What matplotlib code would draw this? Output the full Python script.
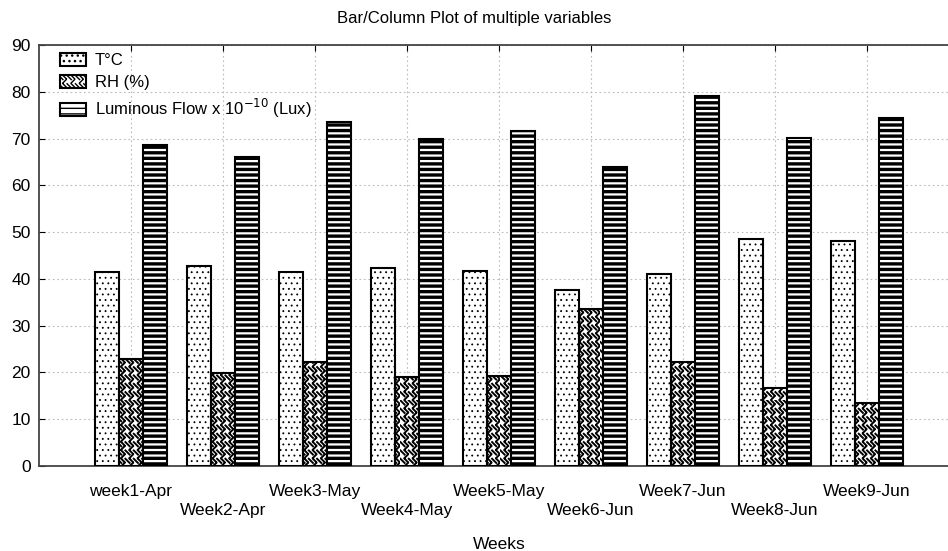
import numpy as np
import matplotlib
matplotlib.use('Agg')
import matplotlib.pyplot as plt
import matplotlib.hatch as mhatch
from matplotlib.path import Path

# dados
semanas = ['week1-Apr', 'Week2-Apr', 'Week3-May', 'Week4-May', 'Week5-May',
           'Week6-Jun', 'Week7-Jun', 'Week8-Jun', 'Week9-Jun']
temperatura = [41.5, 42.8, 41.5, 42.3, 41.7, 37.6, 41.1, 48.6, 48.2]
umidade = [22.9, 19.9, 22.2, 19.1, 19.3, 33.6, 22.2, 16.6, 13.5]
luminosidade = [68.7, 66.1, 73.6, 70.0, 71.6, 64.0, 79.2, 70.1, 74.5]
yticks = [0, 10, 20, 30, 40, 50, 60, 70, 80, 90]


class Trama(mhatch.HatchPatternBase):
    """Padrão 'trançado' (traços curtos diagonais), ativado pela letra O."""
    segs = [((0.05, 0.95), (0.55, 0.45)),
            ((0.55, 0.05), (0.95, 0.45)),
            ((0.55, 0.95), (0.95, 0.55))]

    def __init__(self, hatch, density):
        self.num_lines = int(hatch.count('O') * density)
        self.num_vertices = self.num_lines ** 2 * len(self.segs) * 2

    def set_vertices_and_codes(self, vertices, codes):
        n = self.num_lines
        k = 0
        for i in range(n):
            for j in range(n):
                for (a, b) in self.segs:
                    vertices[k] = ((i + a[0]) / n, (j + a[1]) / n)
                    vertices[k + 1] = ((i + b[0]) / n, (j + b[1]) / n)
                    codes[k] = Path.MOVETO
                    codes[k + 1] = Path.LINETO
                    k += 2


# troca o LargeCircles (não usado) pelo padrão trançado
mhatch._hatch_types = [Trama if h is mhatch.LargeCircles else h
                       for h in mhatch._hatch_types]

plt.rcParams['font.family'] = ['Liberation Sans', 'DejaVu Sans']
plt.rcParams['font.size'] = 12

fig = plt.figure(figsize=(9.48, 5.51), dpi=100)
ax = fig.add_axes([39 / 948, 1 - 466 / 551, 920 / 948, 421 / 551])

x = np.arange(1, len(semanas) + 1)
largura = 0.26

def barras(pos, valores, hatch, lw_hatch, rotulo):
    with plt.rc_context({'hatch.linewidth': lw_hatch}):
        bs = ax.bar(pos, valores, largura, color='white', edgecolor='black',
                    linewidth=1.5, hatch=hatch, label=rotulo, zorder=3)
        for p in bs:
            if hasattr(p, 'set_hatch_linewidth'):
                p.set_hatch_linewidth(lw_hatch)
    return bs

barras(x - largura, temperatura, '...', 0.6, 'T°C')
barras(x, umidade, 'OO', 1.4, 'RH (%)')
barras(x + largura, luminosidade, '---', 2.4, 'Luminous Flow x 10$^{-10}$ (Lux)')

ax.set_xlim(0, 10)
ax.set_ylim(0, 90)
ax.set_yticks(yticks)
ax.set_xticks(x)
# rótulos alternados em duas linhas
rot = [s if i % 2 == 0 else '\n' + s for i, s in enumerate(semanas)]
ax.set_xticklabels(rot, linespacing=1.3)

ax.tick_params(axis='x', direction='in', length=4, top=True, pad=13, labelsize=12.5)
ax.tick_params(axis='y', direction='in', length=4, labelsize=12.5, pad=6)
ax.grid(True, linestyle=(0, (1.5, 2.5)), color='#bbbbbb', linewidth=0.8, zorder=0)
ax.set_axisbelow(True)
for s in ['left', 'bottom', 'top', 'right']:
    ax.spines[s].set_color('#444444')
    ax.spines[s].set_linewidth(1.3)

ax.set_xlabel('Weeks', labelpad=14, fontsize=12.5)
fig.suptitle('Bar/Column Plot of multiple variables', x=0.5, y=1 - 18 / 551,
             va='center', fontsize=12)

ax.legend(loc='upper left', bbox_to_anchor=(21 / 920, 1 - 8 / 421), frameon=False,
          handlelength=1.55, handleheight=0.85, borderpad=0, borderaxespad=0,
          labelspacing=0.4, handletextpad=0.55, fontsize=12)

fig.savefig('out.png', dpi=100)
